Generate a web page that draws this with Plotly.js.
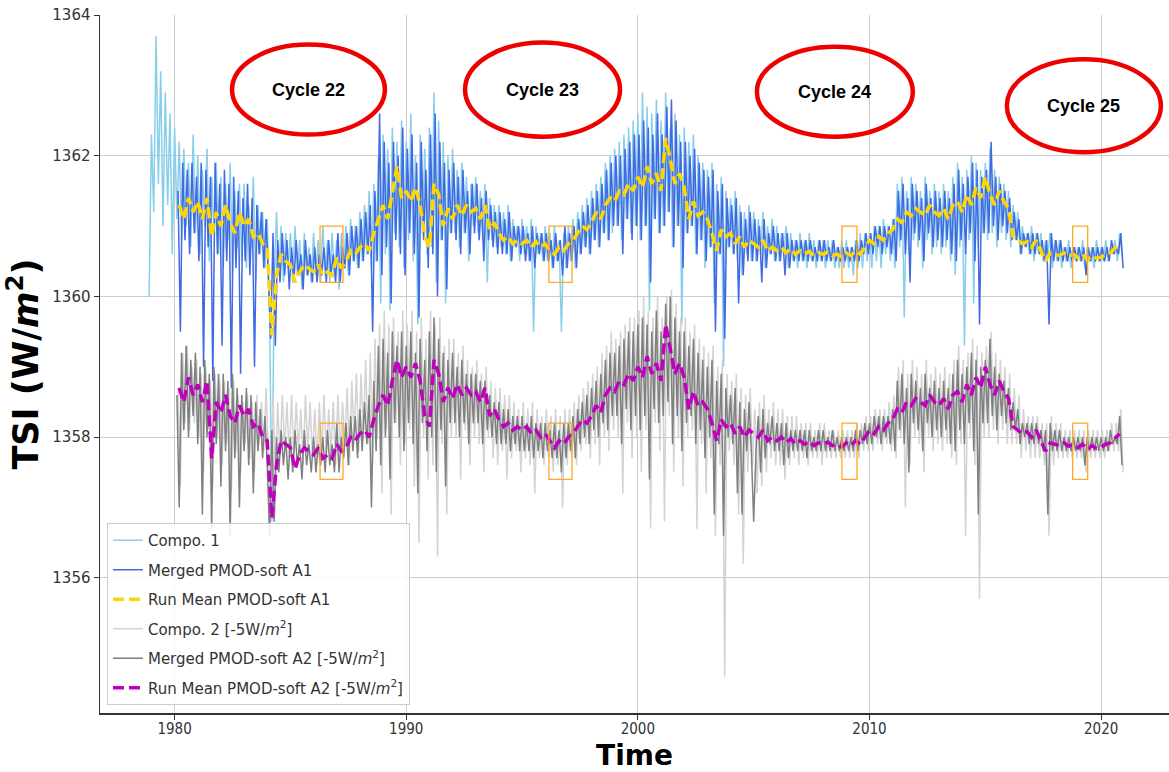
<!DOCTYPE html>
<html>
<head>
<meta charset="utf-8">
<script src="https://cdn.plot.ly/plotly-3.0.1.min.js"></script>
<style>
  html, body { margin: 0; padding: 0; background: #ffffff; }
  #chart { width: 1169px; height: 772px; }
</style>
</head>
<body>
<div id="chart"></div>
<script>
// ---------------- DATA ----------------
const seriesNames = [
  "Compo. 1",
  "Merged PMOD-soft A1",
  "Run Mean PMOD-soft A1",
  "Compo. 2 [-5W/<i>m</i><sup>2</sup>]",
  "Merged PMOD-soft A2 [-5W/<i>m</i><sup>2</sup>]",
  "Run Mean PMOD-soft A2 [-5W/<i>m</i><sup>2</sup>]"
];

// Compo. 1, every 0.1 yr from 1978.9
const compo1Start = 1978.9;
const compo1Step = 0.1;
const compo1Vals = [
  1360.0,
  1362.3, 1361.2, 1363.7, 1361.6, 1363.2, 1361.0, 1362.9, 1361.3, 1362.6, 1360.6,
  1362.4, 1361.1, 1362.2, 1360.8, 1362.1, 1361.0, 1361.9, 1360.7, 1362.3, 1360.9,
  1362.0, 1360.6, 1361.8, 1361.0, 1362.1, 1360.5, 1361.7, 1360.9, 1361.9, 1360.6,
  1361.7, 1360.4, 1361.6, 1360.8, 1361.9, 1360.3, 1361.5, 1360.7, 1361.6, 1360.5,
  1361.6, 1360.4, 1361.3, 1360.7, 1361.7, 1360.2, 1361.3, 1360.6, 1361.2, 1360.4,
  1361.1, 1359.8, 1356.8, 1360.2, 1361.2, 1360.3, 1361.0, 1360.2, 1360.9, 1360.4,
  1360.9, 1360.2, 1361.0, 1360.3, 1360.8, 1360.1, 1360.9, 1360.3, 1360.7, 1360.2,
  1360.9, 1360.3, 1360.8, 1360.2, 1361.0, 1360.3, 1360.8, 1360.2, 1360.9, 1360.3,
  1360.8, 1360.1, 1360.9, 1360.4, 1361.0, 1360.3, 1361.1, 1360.5, 1361.0, 1360.4,
  1361.2, 1360.5, 1361.3, 1360.6, 1361.5, 1360.4, 1361.6, 1360.5, 1362.0, 1359.9,
  1362.3, 1360.6, 1362.1, 1359.8, 1362.4, 1360.9, 1362.2, 1360.7, 1362.5, 1360.4,
  1362.2, 1360.8, 1362.6, 1360.5, 1362.0, 1359.6, 1362.3, 1360.9, 1362.1, 1360.6,
  1362.4, 1360.7, 1362.9, 1360.2, 1362.5, 1360.8, 1362.2, 1359.9, 1362.0, 1360.9,
  1362.1, 1360.9, 1361.8, 1360.7, 1361.9, 1360.9, 1361.7, 1360.5, 1361.6, 1361.0,
  1361.7, 1360.9, 1361.5, 1360.8, 1361.6, 1360.2, 1361.4, 1360.8, 1361.3, 1360.7,
  1361.3, 1360.7, 1361.2, 1360.6, 1361.3, 1360.5, 1361.1, 1360.7, 1361.0, 1360.5,
  1361.1, 1360.6, 1361.0, 1360.5, 1361.1, 1359.5, 1361.0, 1360.6, 1360.9, 1360.5,
  1361.0, 1360.5, 1360.9, 1360.4, 1361.0, 1360.5, 1360.8, 1359.5, 1360.9, 1360.4,
  1361.0, 1360.5, 1361.1, 1360.4, 1361.2, 1360.6, 1361.3, 1360.7, 1361.4, 1360.6,
  1361.5, 1360.8, 1361.6, 1360.7, 1361.7, 1360.9, 1361.9, 1360.8, 1362.0, 1360.9,
  1362.1, 1361.0, 1362.2, 1360.8, 1362.3, 1361.1, 1362.4, 1360.9, 1362.5, 1361.0,
  1362.6, 1360.8, 1362.9, 1361.0, 1362.7, 1359.8, 1362.6, 1361.1, 1362.8, 1360.9,
  1362.5, 1361.0, 1362.9, 1361.2, 1362.4, 1360.7, 1362.6, 1361.0, 1362.3, 1359.6,
  1362.4, 1360.9, 1362.2, 1361.0, 1362.3, 1360.6, 1362.0, 1360.8, 1361.9, 1360.4,
  1361.8, 1360.7, 1361.9, 1359.9, 1361.6, 1360.6, 1361.7, 1359.0, 1361.5, 1360.7,
  1361.4, 1360.6, 1361.5, 1360.5, 1361.3, 1360.3, 1361.2, 1360.6, 1361.3, 1360.5,
  1361.2, 1360.5, 1361.1, 1360.6, 1361.2, 1360.4, 1361.0, 1360.6, 1361.1, 1360.5,
  1361.0, 1360.5, 1360.9, 1360.6, 1361.0, 1360.4, 1360.9, 1360.5, 1360.8, 1360.4,
  1360.9, 1360.5, 1360.8, 1360.4, 1360.9, 1360.5, 1360.8, 1360.4, 1360.8, 1360.5,
  1360.8, 1360.4, 1360.8, 1360.5, 1360.8, 1360.4, 1360.7, 1360.4, 1360.8, 1360.4,
  1360.8, 1360.4, 1360.7, 1360.3, 1360.8, 1360.4, 1360.9, 1360.4, 1360.9, 1360.5,
  1360.9, 1360.4, 1361.0, 1360.5, 1361.0, 1360.4, 1361.1, 1360.6, 1361.0, 1360.5,
  1361.1, 1360.4, 1361.6, 1360.7, 1361.7, 1359.7, 1361.5, 1360.6, 1361.7, 1360.8,
  1361.6, 1360.7, 1361.5, 1360.4, 1361.7, 1360.8, 1361.5, 1360.6, 1361.6, 1360.7,
  1361.5, 1360.6, 1361.6, 1360.7, 1361.5, 1360.5, 1361.7, 1360.3, 1361.9, 1360.7,
  1361.7, 1359.3, 1361.8, 1360.8, 1362.0, 1359.9, 1361.9, 1360.7, 1361.8, 1360.9,
  1361.9, 1360.8, 1362.1, 1360.9, 1361.8, 1360.7, 1361.7, 1360.9, 1361.6, 1360.8,
  1361.5, 1360.7, 1361.3, 1360.8, 1361.2, 1360.6, 1361.0, 1360.7, 1360.9, 1360.6,
  1361.0, 1360.5, 1360.9, 1360.6, 1360.9, 1360.5, 1360.8, 1360.6, 1360.9, 1360.4,
  1360.8, 1360.5, 1360.8, 1360.4, 1360.7, 1360.5, 1360.8, 1360.4, 1360.7, 1360.5,
  1360.7, 1360.5, 1360.8, 1360.4, 1360.7, 1360.5, 1360.7, 1360.4, 1360.8, 1360.5,
  1360.7, 1360.5, 1360.8, 1360.5, 1360.7, 1360.6, 1360.8, 1360.5, 1360.9, 1360.6
];

// Merged PMOD-soft A1, every 0.1 yr from 1980.15
const mergedA1Start = 1980.15;
const mergedA1Step = 0.1;
const mergedA1Vals = [
  1361.5, 1359.5, 1361.9, 1360.8, 1361.8, 1360.6, 1361.9, 1360.9, 1361.7,
  1360.5, 1361.9, 1359.0, 1361.8, 1360.7, 1361.7, 1358.8, 1361.9, 1360.6, 1361.6,
  1359.3, 1361.8, 1360.5, 1361.6, 1358.7, 1361.7, 1360.4, 1361.5, 1358.9, 1361.4,
  1360.5, 1361.6, 1360.3, 1361.4, 1359.0, 1361.3, 1360.6, 1361.2, 1360.4, 1361.1,
  1360.3, 1359.4, 1360.9, 1359.3, 1360.8, 1360.2, 1360.9, 1360.3, 1360.8, 1360.1,
  1360.7, 1360.2, 1360.8, 1360.3, 1360.6, 1360.1, 1360.8, 1360.3, 1360.6, 1360.2,
  1360.7, 1360.2, 1360.6, 1360.3, 1360.7, 1360.2, 1360.8, 1360.3, 1360.6, 1360.2,
  1360.9, 1360.2, 1360.7, 1360.4, 1360.9, 1360.3, 1361.0, 1360.5, 1361.0, 1360.4,
  1361.1, 1360.5, 1361.2, 1360.6, 1361.3, 1359.5, 1361.5, 1360.5, 1362.6, 1360.3,
  1362.2, 1360.7, 1361.9, 1359.9, 1362.2, 1360.8, 1362.0, 1360.6, 1362.4, 1360.3,
  1362.1, 1360.9, 1362.3, 1360.6, 1361.9, 1359.7, 1362.2, 1360.8, 1361.8, 1360.4,
  1362.3, 1360.6, 1362.6, 1360.0, 1362.2, 1360.8, 1361.9, 1360.1, 1361.8, 1360.9,
  1361.9, 1360.8, 1361.7, 1360.6, 1361.8, 1360.9, 1361.5, 1360.6, 1361.6, 1360.9,
  1361.6, 1360.8, 1361.4, 1360.5, 1361.5, 1360.8, 1361.3, 1360.7, 1361.2, 1360.6,
  1361.2, 1360.6, 1361.1, 1360.6, 1361.2, 1360.5, 1361.0, 1360.7, 1361.0, 1360.6,
  1361.0, 1360.5, 1360.9, 1360.5, 1361.0, 1360.4, 1360.9, 1360.6, 1360.9, 1360.5,
  1360.9, 1360.5, 1360.8, 1360.4, 1360.9, 1360.5, 1360.8, 1360.3, 1361.0, 1360.4,
  1360.9, 1360.5, 1361.0, 1360.4, 1361.1, 1360.6, 1361.2, 1360.7, 1361.3, 1360.6,
  1361.4, 1360.8, 1361.5, 1360.7, 1361.6, 1360.9, 1361.8, 1360.8, 1361.9, 1361.0,
  1362.0, 1361.0, 1362.0, 1360.6, 1362.1, 1361.1, 1362.2, 1360.8, 1362.3, 1361.0,
  1362.3, 1360.8, 1362.5, 1361.0, 1362.4, 1360.2, 1362.3, 1361.1, 1362.6, 1360.9,
  1362.3, 1361.0, 1362.7, 1361.2, 1362.8, 1360.7, 1362.5, 1361.0, 1362.2, 1360.4,
  1362.2, 1360.9, 1362.0, 1361.0, 1362.1, 1360.6, 1361.9, 1360.8, 1361.8, 1360.5,
  1361.7, 1360.7, 1361.8, 1359.5, 1361.5, 1360.6, 1361.6, 1359.4, 1361.4, 1360.7,
  1361.3, 1360.6, 1361.4, 1359.9, 1361.2, 1360.3, 1361.1, 1360.5, 1361.2, 1360.5,
  1361.1, 1360.5, 1361.0, 1360.2, 1361.1, 1360.4, 1360.9, 1360.6, 1361.0, 1360.5,
  1360.9, 1360.5, 1360.9, 1360.3, 1360.9, 1360.4, 1360.8, 1360.5, 1360.8, 1360.5,
  1360.8, 1360.5, 1360.8, 1360.5, 1360.8, 1360.5, 1360.7, 1360.5, 1360.8, 1360.5,
  1360.8, 1360.5, 1360.7, 1360.5, 1360.8, 1360.5, 1360.7, 1360.5, 1360.7, 1360.5,
  1360.7, 1360.5, 1360.7, 1360.5, 1360.8, 1360.5, 1360.8, 1360.6, 1360.9, 1360.6,
  1360.9, 1360.6, 1361.0, 1360.7, 1361.0, 1360.6, 1361.0, 1360.7, 1361.0, 1360.6,
  1361.1, 1360.5, 1361.5, 1360.8, 1361.6, 1360.6, 1361.4, 1360.2, 1361.6, 1360.9,
  1361.5, 1360.8, 1361.4, 1360.5, 1361.6, 1360.9, 1361.4, 1360.7, 1361.5, 1360.8,
  1361.4, 1360.7, 1361.5, 1360.8, 1361.4, 1360.6, 1361.6, 1360.5, 1361.8, 1360.8,
  1361.6, 1360.6, 1361.7, 1360.9, 1361.9, 1360.5, 1361.8, 1359.6, 1361.7, 1360.9,
  1361.8, 1360.9, 1362.2, 1361.0, 1361.7, 1360.8, 1361.6, 1361.0, 1361.5, 1360.9,
  1361.4, 1360.8, 1361.2, 1360.8, 1361.1, 1360.6, 1360.9, 1360.7, 1360.9, 1360.6,
  1360.9, 1360.6, 1360.9, 1360.6, 1360.8, 1360.5, 1360.8, 1359.6, 1360.9, 1360.5,
  1360.8, 1360.5, 1360.8, 1360.5, 1360.7, 1360.5, 1360.7, 1360.5, 1360.7, 1360.5,
  1360.7, 1360.5, 1360.7, 1360.3, 1360.7, 1360.5, 1360.7, 1360.5, 1360.7, 1360.5,
  1360.7, 1360.5, 1360.7, 1360.5, 1360.8, 1360.6, 1360.7, 1360.6, 1360.9, 1360.4
];

// Run Mean PMOD-soft A1, every 0.2 yr from 1980.2
const runMeanA1Start = 1980.2;
const runMeanA1Step = 0.2;
const runMeanA1Vals = [
  1361.3, 1361.1, 1361.4, 1361.2,
  1361.35, 1361.1, 1361.4, 1360.85, 1361.2,
  1361.0, 1361.3, 1361.05, 1360.9, 1361.2,
  1361.0, 1361.1, 1360.85, 1360.9, 1360.75,
  1360.7, 1359.45, 1360.3, 1360.6, 1360.5,
  1360.45, 1360.2, 1360.35, 1360.45, 1360.4,
  1360.35, 1360.45, 1360.3, 1360.35, 1360.3,
  1360.55, 1360.4, 1360.5, 1360.65, 1360.6,
  1360.7, 1360.75, 1360.65, 1360.9, 1361.1,
  1361.3, 1361.1, 1361.45, 1361.85, 1361.4,
  1361.5, 1361.35, 1361.55, 1361.3, 1360.85,
  1360.7, 1361.6, 1361.45, 1361.0, 1361.25,
  1361.1, 1361.3, 1361.15, 1361.3, 1361.2,
  1361.25, 1361.1, 1361.3, 1360.95, 1361.05,
  1360.9, 1360.8, 1360.85, 1360.75, 1360.8,
  1360.75, 1360.8, 1360.7, 1360.78, 1360.7,
  1360.75, 1360.65, 1360.6, 1360.7, 1360.65,
  1360.75, 1360.8, 1360.9, 1361.0, 1360.95,
  1361.05, 1361.2, 1361.1, 1361.3, 1361.4,
  1361.35, 1361.5, 1361.45, 1361.6, 1361.5,
  1361.7, 1361.55, 1361.85, 1361.6, 1361.75,
  1361.5, 1362.25, 1361.95, 1361.6, 1361.75,
  1361.55, 1361.1, 1361.35, 1361.15, 1361.2,
  1361.1, 1360.9, 1360.65, 1360.95, 1360.85,
  1360.9, 1360.75, 1360.85, 1360.7, 1360.8,
  1360.75, 1360.7, 1360.8, 1360.65, 1360.7,
  1360.65, 1360.7, 1360.62, 1360.68, 1360.6,
  1360.65, 1360.6, 1360.64, 1360.58, 1360.62,
  1360.6, 1360.63, 1360.58, 1360.6, 1360.56,
  1360.62, 1360.58, 1360.65, 1360.6, 1360.7,
  1360.8, 1360.75, 1360.85, 1360.8, 1360.9,
  1360.95, 1361.1, 1361.05, 1361.2, 1361.15,
  1361.25, 1361.2, 1361.15, 1361.3, 1361.2,
  1361.15, 1361.25, 1361.1, 1361.3, 1361.35,
  1361.2, 1361.45, 1361.3, 1361.55, 1361.4,
  1361.7, 1361.45, 1361.3, 1361.5, 1361.35,
  1361.25, 1360.85, 1360.8, 1360.75, 1360.78,
  1360.7, 1360.8, 1360.65, 1360.5, 1360.62,
  1360.6, 1360.58, 1360.62, 1360.57, 1360.6,
  1360.55, 1360.6, 1360.52, 1360.58, 1360.54,
  1360.56, 1360.6, 1360.62, 1360.68, 1360.75
];

// Compo. 2 [-5 W/m2], every 0.1 yr from 1980.15
const compo2Start = 1980.15;
const compo2Step = 0.1;
const compo2Vals = [
  1358.7, 1357.3, 1359.2, 1358.2, 1359.3, 1358.1, 1359.0, 1358.2, 1359.1,
  1358.0, 1358.9, 1357.5, 1359.0, 1358.1, 1358.8, 1357.3, 1358.9, 1358.0, 1358.8,
  1357.6, 1358.8, 1357.9, 1358.7, 1357.2, 1358.8, 1357.8, 1358.6, 1357.5, 1358.5,
  1357.9, 1358.6, 1357.7, 1358.5, 1357.5, 1358.6, 1357.9, 1358.5, 1357.8, 1358.7,
  1357.8, 1356.8, 1358.6, 1357.4, 1358.5, 1357.7, 1358.6, 1357.8, 1358.5, 1357.7,
  1358.6, 1357.7, 1358.5, 1357.8, 1358.4, 1357.6, 1358.6, 1357.8, 1358.5, 1357.7,
  1358.4, 1357.6, 1358.5, 1357.8, 1358.6, 1357.7, 1358.4, 1357.8, 1358.5, 1357.6,
  1358.6, 1357.8, 1358.5, 1357.9, 1358.7, 1357.6, 1358.8, 1358.0, 1358.9, 1357.8,
  1358.9, 1358.0, 1359.1, 1357.9, 1359.2, 1357.6, 1359.4, 1358.0, 1359.6, 1357.2,
  1359.8, 1358.1, 1359.6, 1356.9, 1359.7, 1358.2, 1359.5, 1357.6, 1359.8, 1357.9,
  1359.6, 1358.1, 1359.8, 1357.3, 1359.5, 1356.5, 1359.7, 1358.0, 1359.4, 1357.4,
  1359.8, 1357.6, 1359.6, 1356.3, 1359.7, 1357.9, 1359.3, 1356.9, 1359.4, 1358.0,
  1359.4, 1358.0, 1359.2, 1357.4, 1359.3, 1358.1, 1359.1, 1357.6, 1359.0, 1358.0,
  1359.1, 1357.9, 1358.9, 1357.5, 1359.0, 1358.0, 1358.8, 1357.7, 1358.7, 1357.6,
  1358.7, 1357.8, 1358.6, 1357.4, 1358.6, 1357.7, 1358.5, 1357.8, 1358.4, 1357.5,
  1358.5, 1357.7, 1358.4, 1357.6, 1358.5, 1357.2, 1358.4, 1357.7, 1358.3, 1357.6,
  1358.4, 1357.7, 1358.3, 1357.5, 1358.4, 1357.6, 1358.3, 1357.0, 1358.4, 1357.6,
  1358.4, 1357.7, 1358.5, 1357.6, 1358.6, 1357.8, 1358.7, 1357.9, 1358.8, 1357.7,
  1358.9, 1357.9, 1359.0, 1357.6, 1359.2, 1358.0, 1359.3, 1357.8, 1359.5, 1358.1,
  1359.4, 1358.0, 1359.5, 1357.2, 1359.6, 1358.2, 1359.7, 1357.7, 1359.7, 1358.0,
  1359.8, 1357.5, 1360.0, 1358.1, 1359.8, 1356.7, 1359.7, 1358.2, 1360.0, 1357.8,
  1359.7, 1356.8, 1360.0, 1358.3, 1360.1, 1357.5, 1359.9, 1358.0, 1359.7, 1357.3,
  1359.7, 1358.0, 1359.5, 1358.1, 1359.6, 1356.7, 1359.4, 1357.9, 1359.3, 1357.2,
  1359.2, 1357.7, 1359.3, 1356.6, 1359.0, 1357.6, 1359.1, 1354.6, 1358.9, 1357.8,
  1358.8, 1357.6, 1358.9, 1356.9, 1358.7, 1356.2, 1358.6, 1357.5, 1358.7, 1357.6,
  1358.4, 1357.2, 1358.5, 1357.3, 1358.6, 1357.5, 1358.4, 1357.7, 1358.5, 1357.6,
  1358.4, 1357.6, 1358.4, 1357.4, 1358.3, 1357.6, 1358.3, 1357.7, 1358.3, 1357.6,
  1358.2, 1357.7, 1358.2, 1357.6, 1358.2, 1357.7, 1358.1, 1357.7, 1358.2, 1357.6,
  1358.2, 1357.7, 1358.1, 1357.7, 1358.1, 1357.7, 1358.1, 1357.7, 1358.1, 1357.7,
  1358.1, 1357.7, 1358.1, 1357.7, 1358.2, 1357.7, 1358.2, 1357.8, 1358.3, 1357.8,
  1358.3, 1357.8, 1358.4, 1357.9, 1358.4, 1357.8, 1358.4, 1357.9, 1358.5, 1357.8,
  1358.6, 1357.7, 1359.0, 1358.0, 1359.1, 1357.0, 1358.9, 1357.6, 1359.1, 1358.0,
  1359.0, 1357.9, 1358.9, 1357.5, 1359.1, 1358.0, 1358.9, 1357.8, 1359.0, 1357.9,
  1358.9, 1357.8, 1359.0, 1357.9, 1358.9, 1357.7, 1359.1, 1357.6, 1359.3, 1357.9,
  1359.1, 1356.6, 1359.2, 1358.0, 1359.4, 1357.6, 1359.3, 1355.7, 1359.2, 1358.0,
  1359.3, 1358.0, 1359.5, 1358.1, 1359.2, 1357.9, 1359.1, 1358.1, 1359.0, 1357.9,
  1358.9, 1357.9, 1358.7, 1357.9, 1358.6, 1357.7, 1358.4, 1357.8, 1358.3, 1357.7,
  1358.3, 1357.7, 1358.3, 1357.7, 1358.2, 1357.6, 1358.2, 1356.6, 1358.3, 1357.6,
  1358.2, 1357.7, 1358.2, 1357.7, 1358.1, 1357.7, 1358.1, 1357.7, 1358.1, 1357.7,
  1358.1, 1357.7, 1358.1, 1357.5, 1358.1, 1357.7, 1358.1, 1357.7, 1358.1, 1357.7,
  1358.1, 1357.7, 1358.1, 1357.8, 1358.2, 1357.8, 1358.2, 1357.8, 1358.4, 1357.5
];

// Merged PMOD-soft A2 [-5 W/m2], every 0.1 yr from 1980.1
const mergedA2Start = 1980.1;
const mergedA2Step = 0.1;
const mergedA2Vals = [
  1358.6, 1357.0, 1359.2, 1358.1, 1359.3, 1358.0, 1359.1, 1358.3, 1359.2,
  1357.9, 1359.0, 1356.9, 1359.1, 1358.0, 1358.9, 1356.7, 1359.0, 1357.9, 1358.9,
  1357.3, 1358.9, 1357.8, 1358.8, 1356.6, 1358.9, 1357.7, 1358.7, 1357.0, 1358.6,
  1357.8, 1358.7, 1357.6, 1358.6, 1357.2, 1358.5, 1357.8, 1358.4, 1357.7, 1358.3,
  1357.6, 1356.6, 1358.1, 1356.8, 1358.0, 1357.5, 1358.1, 1357.6, 1358.0, 1357.4,
  1358.0, 1357.5, 1358.1, 1357.6, 1357.9, 1357.4, 1358.1, 1357.6, 1357.9, 1357.5,
  1358.0, 1357.5, 1357.9, 1357.6, 1358.0, 1357.5, 1358.1, 1357.6, 1357.9, 1357.5,
  1358.2, 1357.5, 1358.0, 1357.7, 1358.2, 1357.6, 1358.3, 1357.8, 1358.3, 1357.7,
  1358.4, 1357.8, 1358.5, 1357.9, 1358.6, 1357.0, 1358.8, 1357.8, 1359.3, 1357.6,
  1359.4, 1358.0, 1359.2, 1357.4, 1359.5, 1358.2, 1359.3, 1358.0, 1359.5, 1357.8,
  1359.3, 1358.2, 1359.5, 1357.9, 1359.2, 1357.2, 1359.4, 1358.2, 1359.1, 1357.8,
  1359.5, 1358.0, 1359.7, 1357.5, 1359.4, 1358.1, 1359.2, 1357.3, 1359.1, 1358.2,
  1359.2, 1358.2, 1359.0, 1358.0, 1359.1, 1358.2, 1358.9, 1357.9, 1358.9, 1358.2,
  1358.9, 1358.2, 1358.8, 1357.9, 1358.8, 1358.1, 1358.6, 1358.0, 1358.5, 1357.9,
  1358.5, 1357.9, 1358.4, 1357.9, 1358.4, 1357.8, 1358.3, 1357.9, 1358.3, 1357.8,
  1358.3, 1357.8, 1358.2, 1357.8, 1358.3, 1357.7, 1358.2, 1357.8, 1358.2, 1357.7,
  1358.2, 1357.8, 1358.1, 1357.7, 1358.2, 1357.7, 1358.1, 1357.5, 1358.2, 1357.7,
  1358.2, 1357.8, 1358.3, 1357.7, 1358.4, 1357.9, 1358.5, 1358.0, 1358.6, 1357.9,
  1358.7, 1358.1, 1358.8, 1358.0, 1358.9, 1358.2, 1359.1, 1358.1, 1359.2, 1358.3,
  1359.2, 1358.3, 1359.3, 1357.9, 1359.4, 1358.4, 1359.5, 1358.1, 1359.5, 1358.3,
  1359.6, 1358.1, 1359.7, 1358.3, 1359.6, 1357.4, 1359.5, 1358.4, 1359.8, 1358.2,
  1359.5, 1358.3, 1359.9, 1358.5, 1360.0, 1357.9, 1359.7, 1358.3, 1359.5, 1357.8,
  1359.5, 1358.2, 1359.3, 1358.3, 1359.4, 1357.9, 1359.2, 1358.1, 1359.1, 1357.7,
  1359.0, 1358.0, 1359.1, 1356.9, 1358.8, 1357.9, 1358.9, 1356.6, 1358.7, 1358.0,
  1358.6, 1357.9, 1358.7, 1357.2, 1358.5, 1356.9, 1358.4, 1357.8, 1358.5, 1357.8,
  1356.8, 1357.8, 1358.3, 1357.5, 1358.4, 1357.7, 1358.2, 1357.9, 1358.3, 1357.8,
  1358.2, 1357.8, 1358.2, 1357.6, 1358.2, 1357.7, 1358.1, 1357.8, 1358.1, 1357.8,
  1358.1, 1357.8, 1358.1, 1357.7, 1358.1, 1357.8, 1358.0, 1357.8, 1358.1, 1357.8,
  1358.1, 1357.8, 1358.0, 1357.8, 1358.1, 1357.8, 1358.0, 1357.8, 1358.0, 1357.8,
  1358.0, 1357.8, 1358.0, 1357.8, 1358.1, 1357.8, 1358.1, 1357.9, 1358.2, 1357.9,
  1358.2, 1357.9, 1358.3, 1358.0, 1358.3, 1357.9, 1358.3, 1358.0, 1358.3, 1357.9,
  1358.4, 1357.8, 1358.8, 1358.1, 1358.9, 1357.9, 1358.7, 1357.5, 1358.9, 1358.2,
  1358.8, 1358.1, 1358.7, 1357.8, 1358.9, 1358.2, 1358.7, 1358.0, 1358.8, 1358.1,
  1358.7, 1358.0, 1358.8, 1358.1, 1358.7, 1357.9, 1358.9, 1357.8, 1359.1, 1358.1,
  1358.9, 1357.9, 1359.0, 1358.2, 1359.2, 1357.8, 1359.1, 1356.9, 1359.0, 1358.2,
  1359.1, 1358.2, 1359.4, 1358.3, 1359.0, 1358.1, 1358.9, 1358.3, 1358.8, 1358.2,
  1358.7, 1358.1, 1358.5, 1358.1, 1358.4, 1357.9, 1358.2, 1358.0, 1358.2, 1357.9,
  1358.2, 1357.9, 1358.2, 1357.9, 1358.1, 1357.8, 1358.1, 1356.9, 1358.2, 1357.8,
  1358.1, 1357.8, 1358.1, 1357.8, 1358.0, 1357.8, 1358.0, 1357.8, 1358.0, 1357.8,
  1358.0, 1357.8, 1358.0, 1357.6, 1358.0, 1357.8, 1358.0, 1357.8, 1358.0, 1357.8,
  1358.0, 1357.8, 1358.0, 1357.8, 1358.1, 1357.9, 1358.0, 1357.9, 1358.3, 1357.6
];

// Run Mean PMOD-soft A2 [-5 W/m2], every 0.2 yr from 1980.2
const runMeanA2Start = 1980.2;
const runMeanA2Step = 0.2;
const runMeanA2Vals = [
  1358.7, 1358.5, 1358.85, 1358.6,
  1358.75, 1358.5, 1358.8, 1357.7, 1358.5,
  1358.35, 1358.6, 1358.3, 1358.2, 1358.45,
  1358.3, 1358.4, 1358.15, 1358.2, 1358.0,
  1357.95, 1356.85, 1357.6, 1357.95, 1357.9,
  1357.85, 1357.55, 1357.75, 1357.85, 1357.8,
  1357.75, 1357.85, 1357.7, 1357.75, 1357.7,
  1357.9, 1357.8, 1357.85, 1358.0, 1357.95,
  1358.05, 1358.1, 1358.0, 1358.25, 1358.45,
  1358.6, 1358.45, 1358.8, 1359.1, 1358.85,
  1359.0, 1358.85, 1359.05, 1358.8, 1358.3,
  1358.15, 1359.1, 1358.9, 1358.5, 1358.7,
  1358.55, 1358.75, 1358.6, 1358.7, 1358.6,
  1358.65, 1358.5, 1358.7, 1358.3, 1358.4,
  1358.25, 1358.15, 1358.2, 1358.1, 1358.15,
  1358.1, 1358.15, 1358.05, 1358.1, 1358.0,
  1358.05, 1357.95, 1357.85, 1357.95, 1357.9,
  1358.0, 1358.05, 1358.15, 1358.25, 1358.2,
  1358.3, 1358.45, 1358.35, 1358.6, 1358.7,
  1358.65, 1358.8, 1358.75, 1358.9, 1358.8,
  1359.0, 1358.85, 1359.15, 1358.9, 1359.05,
  1358.8, 1359.6, 1359.25, 1358.9, 1359.05,
  1358.85, 1358.4, 1358.65, 1358.45, 1358.5,
  1358.4, 1358.2, 1357.95, 1358.25, 1358.15,
  1358.2, 1358.05, 1358.15, 1358.0, 1358.1,
  1358.05, 1358.0, 1358.1, 1357.95, 1358.0,
  1357.95, 1358.0, 1357.92, 1357.98, 1357.9,
  1357.95, 1357.9, 1357.94, 1357.88, 1357.92,
  1357.9, 1357.93, 1357.88, 1357.9, 1357.86,
  1357.92, 1357.88, 1357.95, 1357.9, 1358.0,
  1358.1, 1358.05, 1358.15, 1358.1, 1358.2,
  1358.25, 1358.4, 1358.35, 1358.5, 1358.45,
  1358.55, 1358.5, 1358.45, 1358.6, 1358.5,
  1358.45, 1358.55, 1358.4, 1358.6, 1358.65,
  1358.5, 1358.75, 1358.6, 1358.85, 1358.7,
  1359.0, 1358.75, 1358.6, 1358.8, 1358.65,
  1358.55, 1358.15, 1358.1, 1358.05, 1358.08,
  1358.0, 1358.1, 1357.95, 1357.8, 1357.92,
  1357.9, 1357.88, 1357.92, 1357.87, 1357.9,
  1357.85, 1357.9, 1357.82, 1357.88, 1357.84,
  1357.86, 1357.9, 1357.92, 1357.98, 1358.05
];

// Axis ticks
const xTickVals = [1980, 1990, 2000, 2010, 2020];
const xTickText = ["1980", "1990", "2000", "2010", "2020"];
const yTickVals = [1356, 1358, 1360, 1362, 1364];
const yTickText = ["1356", "1358", "1360", "1362", "1364"];

// Cycle labels (ellipse annotations)
const cycleLabels = ["Cycle 22", "Cycle 23", "Cycle 24", "Cycle 25"];
const cycleX0 = [1982.48, 1992.54, 2005.14, 2015.93];
const cycleX1 = [1989.08, 1999.23, 2011.87, 2022.58];
const cycleY0 = [1362.30, 1362.27, 1362.27, 1362.05];
const cycleY1 = [1363.58, 1363.61, 1363.55, 1363.37];

// Solar-minimum boxes
const boxX0 = [1986.28, 1996.16, 2008.81, 2018.77];
const boxX1 = [1987.27, 1997.16, 2009.46, 2019.42];
const boxUpperY = [1360.2, 1361.0];
const boxLowerY = [1357.4, 1358.2];

// ---------------- BUILD ----------------
function years(start, step, n) {
  const a = [];
  for (let i = 0; i < n; i++) a.push(Math.round((start + i * step) * 1000) / 1000);
  return a;
}

const colors = ["#87ceeb", "#4169e1", "#ffd700", "#d3d3d3", "#808080", "#bf00bf"];

const traces = [
  { vals: compo1Vals, start: compo1Start, step: compo1Step, width: 1.5, dash: "solid" },
  { vals: mergedA1Vals, start: mergedA1Start, step: mergedA1Step, width: 1.5, dash: "solid" },
  { vals: runMeanA1Vals, start: runMeanA1Start, step: runMeanA1Step, width: 3.5, dash: "11px,5px" },
  { vals: compo2Vals, start: compo2Start, step: compo2Step, width: 1.5, dash: "solid" },
  { vals: mergedA2Vals, start: mergedA2Start, step: mergedA2Step, width: 1.5, dash: "solid" },
  { vals: runMeanA2Vals, start: runMeanA2Start, step: runMeanA2Step, width: 3.5, dash: "11px,5px" }
].map((t, i) => ({
  type: "scatter",
  mode: "lines",
  name: seriesNames[i],
  legendgroup: "g" + i,
  x: years(t.start, t.step, t.vals.length),
  y: t.vals,
  line: { color: colors[i], width: t.width, dash: t.dash },
  hoverinfo: "skip"
}));

const shapes = [];
for (let i = 0; i < cycleLabels.length; i++) {
  shapes.push({
    type: "circle", xref: "x", yref: "y",
    x0: cycleX0[i], x1: cycleX1[i], y0: cycleY0[i], y1: cycleY1[i],
    line: { color: "#ee0000", width: 4.5 }
  });
}
for (let i = 0; i < boxX0.length; i++) {
  [boxUpperY, boxLowerY].forEach(b => {
    shapes.push({
      type: "rect", xref: "x", yref: "y",
      x0: boxX0[i], x1: boxX1[i], y0: b[0], y1: b[1],
      line: { color: "#ffa726", width: 1.3 }
    });
  });
}

const annotations = cycleLabels.map((txt, i) => ({
  x: (cycleX0[i] + cycleX1[i]) / 2,
  y: (cycleY0[i] + cycleY1[i]) / 2,
  xref: "x", yref: "y",
  text: "<b>" + txt + "</b>",
  showarrow: false,
  font: { family: "Liberation Sans, Arial, sans-serif", size: 18, color: "#000000" }
}));

const layout = {
  width: 1169,
  height: 772,
  margin: { l: 100, r: 0, t: 15, b: 59 },
  paper_bgcolor: "#ffffff",
  plot_bgcolor: "#ffffff",
  showlegend: true,
  legend: {
    x: 0.0065, y: 0.0115, xanchor: "left", yanchor: "bottom",
    bgcolor: "rgba(255,255,255,0.85)",
    bordercolor: "#cccccc", borderwidth: 1,
    traceorder: "grouped", tracegroupgap: 7,
    font: { family: "DejaVu Sans, sans-serif", size: 15, color: "#333333" }
  },
  xaxis: {
    range: [1976.78, 2022.93],
    tickvals: xTickVals, ticktext: xTickText,
    showgrid: true, gridcolor: "#cccccc", gridwidth: 1,
    zeroline: false,
    showline: true, linecolor: "#333333", linewidth: 1.5,
    ticks: "outside", ticklen: 5, tickcolor: "#333333",
    ticklabelstandoff: -4,
    tickfont: { family: "Liberation Sans Narrow, DejaVu Sans Condensed, DejaVu Sans, sans-serif", size: 15, color: "#333333" },
    title: { text: "<b>Time</b>", font: { family: "DejaVu Sans, sans-serif", size: 28, color: "#000000" }, standoff: 14 }
  },
  yaxis: {
    range: [1354.08, 1364.0],
    tickvals: yTickVals, ticktext: yTickText,
    showgrid: true, gridcolor: "#cccccc", gridwidth: 1,
    zeroline: false,
    showline: true, linecolor: "#333333", linewidth: 1.5,
    ticks: "outside", ticklen: 5, tickcolor: "#333333",
    tickfont: { family: "DejaVu Sans, sans-serif", size: 15, color: "#333333" },
    title: { text: "<b>TSI (W/<i>m</i><sup>2</sup>)</b>", font: { family: "DejaVu Sans, sans-serif", size: 35, color: "#000000" }, standoff: 4 }
  },
  shapes: shapes,
  annotations: annotations
};

Plotly.newPlot("chart", traces, layout, { displayModeBar: false, staticPlot: true });
</script>
</body>
</html>
